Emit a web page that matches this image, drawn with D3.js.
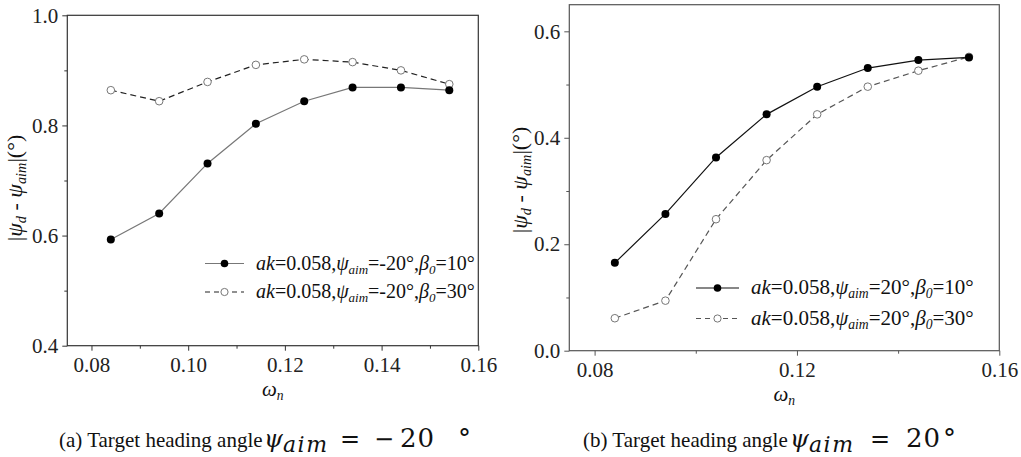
<!DOCTYPE html>
<html><head><meta charset="utf-8">
<script src="https://cdn.jsdelivr.net/npm/d3@7"></script>
<style>body{margin:0;background:#fff} svg{display:block} text{font-family:"Liberation Serif","Times New Roman",serif;fill:#111}</style>
</head><body><svg id="c" width="1021" height="457"></svg>
<script>
// ---- data ----
const omega = [0.084,0.094,0.104,0.114,0.124,0.134,0.144,0.154];
const errA_b10 = [0.593,0.640,0.731,0.803,0.844,0.869,0.869,0.864];
const errA_b30 = [0.864,0.844,0.879,0.910,0.920,0.915,0.900,0.875];
const errB_b10 = [0.165,0.257,0.363,0.444,0.496,0.531,0.546,0.551];
const errB_b30 = [0.061,0.094,0.247,0.358,0.444,0.496,0.526,0.552];
const xTicksA = [0.08,0.10,0.12,0.14,0.16];
const xMinorA = [0.09,0.11,0.13,0.15];
const yTicksA = [0.4,0.6,0.8,1.0];
const yMinorA = [0.5,0.7,0.9];
const xTicksB = [0.08,0.12,0.16];
const xMinorB = [0.10,0.14];
const yTicksB = [0.0,0.2,0.4,0.6];
const yMinorB = [0.1,0.3,0.5];
const xDomain = [0.075,0.16];
const yDomainA = [0.4,1.0];
const yDomainB = [0.0,0.65];
const psiAimA = "-20", psiAimB = "20";
const beta0 = ["10","30"];
const captionA = {pre:"(a) Target heading angle ", eq:"=", sign:"−", val:"20", deg:"°"};
const captionB = {pre:"(b) Target heading angle ", eq:"=", sign:"", val:"20", deg:"°"};

const svg = d3.select("#c");

function panel(cfg){
  const g = svg.append("g");
  const x = d3.scaleLinear().domain(xDomain).range([cfg.l, cfg.r]);
  const y = d3.scaleLinear().domain(cfg.yDomain).range([cfg.b, cfg.t]);
  const ax = g.append("g").attr("transform",`translate(0,${cfg.b})`)
    .call(d3.axisBottom(x).tickValues(cfg.xt).tickFormat(d3.format(".2f")).tickSize(5).tickSizeOuter(0).tickPadding(6));
  const axm = g.append("g").attr("transform",`translate(0,${cfg.b})`)
    .call(d3.axisBottom(x).tickValues(cfg.xm).tickFormat("").tickSize(3).tickSizeOuter(0));
  const ay = g.append("g").attr("transform",`translate(${cfg.l},0)`)
    .call(d3.axisLeft(y).tickValues(cfg.yt).tickFormat(d3.format(".1f")).tickSize(5).tickSizeOuter(0).tickPadding(4));
  const aym = g.append("g").attr("transform",`translate(${cfg.l},0)`)
    .call(d3.axisLeft(y).tickValues(cfg.ym).tickFormat("").tickSize(3).tickSizeOuter(0));
  [ax,axm,ay,aym].forEach(a=>{
    a.attr("font-family",null);
    a.select(".domain").remove();
    a.selectAll("line").attr("stroke",cfg.frame);
    a.selectAll("text").style("font-family","'Liberation Serif'").attr("font-size",cfg.fs).style("fill","#222");
  });
  g.append("rect").attr("x",cfg.l).attr("y",cfg.t).attr("width",cfg.r-cfg.l).attr("height",cfg.b-cfg.t)
    .attr("fill","none").attr("stroke",cfg.frame).attr("stroke-width",1.2);
  const line = d3.line().x((d,i)=>x(omega[i])).y(d=>y(d));
  g.append("path").datum(cfg.s2).attr("d",line).attr("fill","none").attr("stroke",cfg.c2).attr("stroke-width",1.2).attr("stroke-dasharray","6,4");
  g.append("path").datum(cfg.s1).attr("d",line).attr("fill","none").attr("stroke",cfg.c1).attr("stroke-width",1.2);
  g.append("g").selectAll("circle").data(cfg.s2).join("circle")
    .attr("cx",(d,i)=>x(omega[i])).attr("cy",d=>y(d)).attr("r",3.8).attr("fill","#fff").attr("stroke","#777").attr("stroke-width",1);
  g.append("g").selectAll("circle").data(cfg.s1).join("circle")
    .attr("cx",(d,i)=>x(omega[i])).attr("cy",d=>y(d)).attr("r",4).attr("fill","#000");
  // axis titles
  const xl = g.append("text").attr("x",(cfg.l+cfg.r)/2).attr("y",cfg.xlY).attr("text-anchor","middle").attr("font-size",cfg.fs);
  xl.append("tspan").attr("font-style","italic").text("ω");
  xl.append("tspan").attr("font-style","italic").attr("font-size",cfg.fs*0.65).attr("dy",4).text("n");
  const yl = g.append("text").attr("transform",`translate(${cfg.ylX},${cfg.ylY}) rotate(-90)`).attr("text-anchor","middle").attr("font-size",cfg.ylFs);
  yl.append("tspan").text("|");
  yl.append("tspan").attr("font-style","italic").text("ψ");
  yl.append("tspan").attr("font-style","italic").attr("font-size",cfg.ylFs*0.65).attr("dy",4).text("d");
  yl.append("tspan").attr("dy",-4).text(" - ");
  yl.append("tspan").attr("font-style","italic").text("ψ");
  yl.append("tspan").attr("font-style","italic").attr("font-size",cfg.ylFs*0.65).attr("dy",4).text("aim");
  yl.append("tspan").attr("dy",-4).text("|(°)");
  // legend
  const lg = cfg.legend;
  [0,1].forEach(k=>{
    const ly = lg.y + k*lg.dy;
    g.append("line").attr("x1",lg.x1).attr("x2",lg.x2).attr("y1",ly).attr("y2",ly)
      .attr("stroke",k?cfg.c2:cfg.c1).attr("stroke-width",1.2).attr("stroke-dasharray",k?"5,4":null);
    g.append("circle").attr("cx",(lg.x1+lg.x2)/2).attr("cy",ly).attr("r",k?3.6:3.8)
      .attr("fill",k?"#fff":"#000").attr("stroke",k?"#777":null);
    const t = g.append("text").attr("x",lg.tx).attr("y",ly+6).attr("font-size",lg.fs);
    t.append("tspan").attr("font-style","italic").text("ak");
    t.append("tspan").text("=0.058,");
    t.append("tspan").attr("font-style","italic").text("ψ");
    t.append("tspan").attr("font-style","italic").attr("font-size",lg.fs*0.65).attr("dy",4).text("aim");
    t.append("tspan").attr("dy",-4).text("="+cfg.psi+"°,");
    t.append("tspan").attr("font-style","italic").text("β");
    t.append("tspan").attr("font-style","italic").attr("font-size",lg.fs*0.65).attr("dy",4).text("0");
    t.append("tspan").attr("dy",-4).text("="+beta0[k]+"°");
  });
  // caption
  const cp = cfg.capPos, cy = cfg.capY;
  svg.append("text").attr("x",cfg.capX).attr("y",cy).attr("font-size",cfg.capFs).text(cfg.cap.pre);
  const m = (txt,xx,yy,fs,it,ls)=>{
    if(!txt) return;
    svg.append("text").attr("x",xx).attr("y",yy).attr("font-size",fs)
      .style("font-family","'DejaVu Serif'").attr("font-style",it?"italic":null)
      .attr("letter-spacing",ls||null).text(txt);
  };
  m("ψ",cp.psi,cy,24,true);
  m("aim",cp.aim,cy+5,22,true,1.5);
  m(cfg.cap.eq,cp.eq,cy,24,false);
  m(cfg.cap.sign,cp.sign,cy,24,false);
  m(cfg.cap.val,cp.val,cy,26,false,1);
  m(cfg.cap.deg,cp.deg,cy,26,false);
}

panel({l:67.3,r:478.3,t:15.3,b:345.7,yDomain:yDomainA,xt:xTicksA,xm:xMinorA,yt:yTicksA,ym:yMinorA,
  s1:errA_b10,s2:errA_b30,c1:"#777",c2:"#222",frame:"#333",fs:21,ylFs:22,psi:psiAimA,
  xlY:396,ylX:22,ylY:188,
  legend:{x1:205,x2:244,tx:256,y:263.5,dy:28.5,fs:20},
  cap:captionA,capX:59,capY:447,capFs:21,
  capPos:{psi:264,aim:283,eq:340,sign:374,val:400,deg:458}});
panel({l:569.3,r:999.3,t:4.7,b:350.7,yDomain:yDomainB,xt:xTicksB,xm:xMinorB,yt:yTicksB,ym:yMinorB,
  s1:errB_b10,s2:errB_b30,c1:"#111",c2:"#555",frame:"#555",fs:21,ylFs:22,psi:psiAimB,
  xlY:401,ylX:527,ylY:180,
  legend:{x1:696,x2:739,tx:751,y:288,dy:30.5,fs:21},
  cap:captionB,capX:583,capY:447,capFs:21,
  capPos:{psi:790,aim:809,eq:870,sign:0,val:906,deg:943}});
</script></body></html>
